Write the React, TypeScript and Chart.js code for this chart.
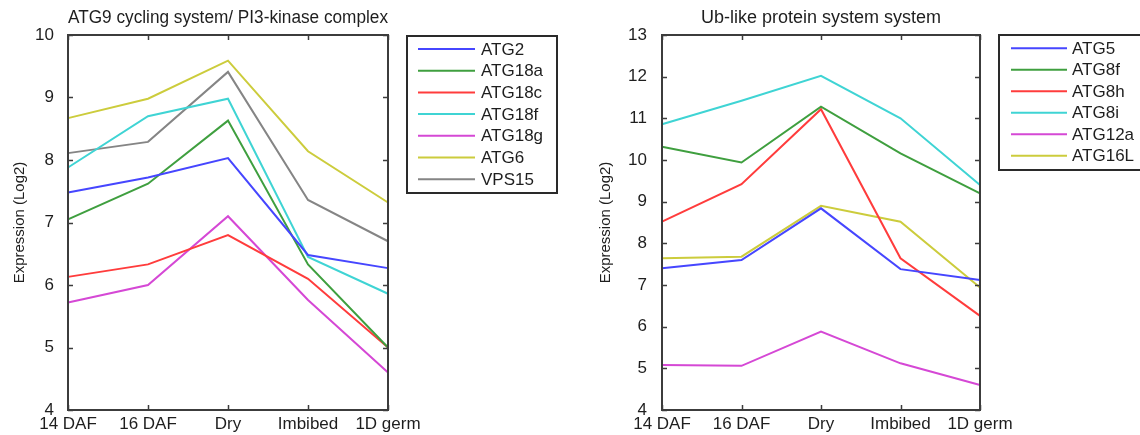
import React, { useEffect, useRef } from 'react';
import { Chart, registerables } from 'chart.js';

Chart.register(...registerables);

// ---------- Data ----------
const categories = ['14 DAF', '16 DAF', 'Dry', 'Imbibed', '1D germ'];

// Left panel: ATG9 cycling system / PI3-kinase complex
const leftTitle = 'ATG9 cycling system/ PI3-kinase complex';
const leftNames = ['ATG2', 'ATG18a', 'ATG18c', 'ATG18f', 'ATG18g', 'ATG6', 'VPS15'];
const atg2 = [7.48, 7.72, 8.03, 6.48, 6.27];
const atg18a = [7.05, 7.62, 8.63, 6.33, 5.0];
const atg18c = [6.13, 6.33, 6.8, 6.1, 5.0];
const atg18f = [7.88, 8.7, 8.98, 6.45, 5.86];
const atg18g = [5.72, 6.0, 7.1, 5.76, 4.6];
const atg6 = [8.67, 8.98, 9.59, 8.14, 7.32];
const vps15 = [8.11, 8.29, 9.41, 7.36, 6.7];
const leftValues = [atg2, atg18a, atg18c, atg18f, atg18g, atg6, vps15];
const leftYMin = 4;
const leftYMax = 10;

// Right panel: Ub-like protein system
const rightTitle = 'Ub-like protein system system';
const rightNames = ['ATG5', 'ATG8f', 'ATG8h', 'ATG8i', 'ATG12a', 'ATG16L'];
const atg5 = [7.4, 7.6, 8.84, 7.38, 7.12];
const atg8f = [10.32, 9.94, 11.28, 10.16, 9.2];
const atg8h = [8.52, 9.42, 11.22, 7.64, 6.26];
const atg8i = [10.86, 11.42, 12.02, 11.0, 9.4];
const atg12a = [5.08, 5.06, 5.88, 5.12, 4.6];
const atg16l = [7.64, 7.68, 8.9, 8.52, 6.94];
const rightValues = [atg5, atg8f, atg8h, atg8i, atg12a, atg16l];
const rightYMin = 4;
const rightYMax = 13;

const yAxisTitle = 'Expression (Log2)';

// ---------- Styles ----------
const leftColors = ['#4646ff', '#3f9f3f', '#ff3c3c', '#3fd4d4', '#d548d5', '#cccc3c', '#858585'];
const rightColors = ['#4646ff', '#3f9f3f', '#ff3c3c', '#3fd4d4', '#d548d5', '#cccc3c'];
const FONT = '"Liberation Sans", Arial, Helvetica, sans-serif';
const TEXT = '#1e1e1e';

// ---------- Plugins ----------
const matlabBox = {
  id: 'matlabBox',
  afterDatasetsDraw(chart: any, _args: any, opts: any) {
    const { ctx, chartArea: a, scales } = chart;
    ctx.save();
    ctx.strokeStyle = opts.color;
    ctx.lineWidth = opts.width;
    ctx.strokeRect(a.left, a.top, a.right - a.left, a.bottom - a.top);
    const L = opts.tickLen;
    ctx.beginPath();
    scales.y.ticks.forEach((t: any) => {
      const y = Math.round(scales.y.getPixelForValue(t.value)) + 0.5;
      ctx.moveTo(a.left, y);
      ctx.lineTo(a.left + L, y);
      ctx.moveTo(a.right, y);
      ctx.lineTo(a.right - L, y);
    });
    scales.x.ticks.forEach((_t: any, i: number) => {
      const x = Math.round(scales.x.getPixelForTick(i)) + 0.5;
      ctx.moveTo(x, a.top);
      ctx.lineTo(x, a.top + L);
      ctx.moveTo(x, a.bottom);
      ctx.lineTo(x, a.bottom - L);
    });
    ctx.lineWidth = 1.5;
    ctx.stroke();
    ctx.restore();
  },
};

const boxLegend = {
  id: 'boxLegend',
  afterDraw(chart: any, _args: any, opts: any) {
    const { ctx } = chart;
    ctx.save();
    ctx.strokeStyle = opts.borderColor;
    ctx.lineWidth = opts.borderWidth;
    ctx.strokeRect(opts.x, opts.y, opts.w, opts.h);
    ctx.font = `${opts.fontSize}px ${FONT}`;
    ctx.textBaseline = 'middle';
    ctx.textAlign = 'left';
    chart.data.datasets.forEach((ds: any, i: number) => {
      const y = opts.firstY + i * opts.spacing;
      ctx.strokeStyle = ds.borderColor;
      ctx.lineWidth = 2;
      ctx.beginPath();
      ctx.moveTo(opts.lineX1, y);
      ctx.lineTo(opts.lineX2, y);
      ctx.stroke();
      ctx.fillStyle = TEXT;
      ctx.fillText(ds.label, opts.textX, y + 1);
    });
    ctx.restore();
  },
};

type PanelCfg = {
  width: number;
  title: string;
  names: string[];
  values: number[][];
  colors: string[];
  yMin: number;
  yMax: number;
  plotLeft: number;
  plotRight: number;
  yTitlePad: number;
  yTickPad: number;
  legend: any;
};

function Panel({ cfg, left }: { cfg: PanelCfg; left: number }) {
  const ref = useRef<HTMLCanvasElement | null>(null);
  useEffect(() => {
    if (!ref.current) return;
    const chart = new Chart(ref.current, {
      type: 'line',
      data: {
        labels: categories,
        datasets: cfg.values.map((v, i) => ({
          label: cfg.names[i],
          data: v,
          borderColor: cfg.colors[i],
          backgroundColor: cfg.colors[i],
          borderWidth: 2,
          pointRadius: 0,
          tension: 0,
          fill: false,
        })),
      },
      options: {
        responsive: false,
        animation: false,
        events: [],
        layout: { padding: { left: 0, right: cfg.width - cfg.plotRight, top: 0, bottom: 0 } },
        plugins: {
          legend: { display: false },
          tooltip: { enabled: false },
          title: {
            display: true,
            text: cfg.title,
            fullSize: false,
            color: TEXT,
            font: { family: FONT, size: 18, weight: 'normal', lineHeight: 1.2 },
            padding: { top: 7, bottom: 6.4 },
          },
          matlabBox: { color: '#3c3c3c', width: 2, tickLen: 5 },
          boxLegend: cfg.legend,
        } as any,
        scales: {
          x: {
            type: 'category',
            offset: false,
            grid: { display: false },
            border: { display: false },
            ticks: {
              color: TEXT,
              font: { family: FONT, size: 17 },
              padding: -4,
              maxRotation: 0,
              autoSkip: false,
            },
            afterFit: (s: any) => {
              s.height = 25;
            },
          },
          y: {
            min: cfg.yMin,
            max: cfg.yMax,
            grid: { display: false },
            border: { display: false },
            ticks: {
              stepSize: 1,
              color: TEXT,
              font: { family: FONT, size: 17 },
              padding: cfg.yTickPad,
            },
            title: {
              display: true,
              text: yAxisTitle,
              color: TEXT,
              font: { family: FONT, size: 15 },
              padding: { top: cfg.yTitlePad, bottom: 0 },
            },
            afterFit: (s: any) => {
              s.width = cfg.plotLeft;
            },
          },
        },
      } as any,
      plugins: [matlabBox, boxLegend],
    });
    return () => chart.destroy();
  }, [cfg]);
  return (
    <canvas
      ref={ref}
      width={cfg.width}
      height={435}
      style={{ position: 'absolute', left, top: 0, width: cfg.width, height: 435 }}
    />
  );
}

const leftCfg: PanelCfg = {
  width: 570,
  title: leftTitle,
  names: leftNames,
  values: leftValues,
  colors: leftColors,
  yMin: leftYMin,
  yMax: leftYMax,
  plotLeft: 68,
  plotRight: 388,
  yTitlePad: 11,
  yTickPad: 6,
  legend: {
    x: 407, y: 36, w: 150, h: 157,
    lineX1: 418, lineX2: 475, textX: 481,
    firstY: 49, spacing: 21.7, fontSize: 17,
    borderColor: '#2a2a2a', borderWidth: 2,
  },
};

const rightCfg: PanelCfg = {
  width: 570,
  title: rightTitle,
  names: rightNames,
  values: rightValues,
  colors: rightColors,
  yMin: rightYMin,
  yMax: rightYMax,
  plotLeft: 92,
  plotRight: 410,
  yTitlePad: 26.5,
  yTickPad: 7,
  legend: {
    x: 429, y: 35, w: 200, h: 135,
    lineX1: 441, lineX2: 497, textX: 502,
    firstY: 48.3, spacing: 21.5, fontSize: 17,
    borderColor: '#2a2a2a', borderWidth: 2,
  },
};

export default function App() {
  return (
    <div
      style={{
        position: 'fixed',
        left: 0,
        top: 0,
        width: 1140,
        height: 435,
        background: '#ffffff',
        overflow: 'hidden',
      }}
    >
      <Panel cfg={leftCfg} left={0} />
      <Panel cfg={rightCfg} left={570} />
    </div>
  );
}
